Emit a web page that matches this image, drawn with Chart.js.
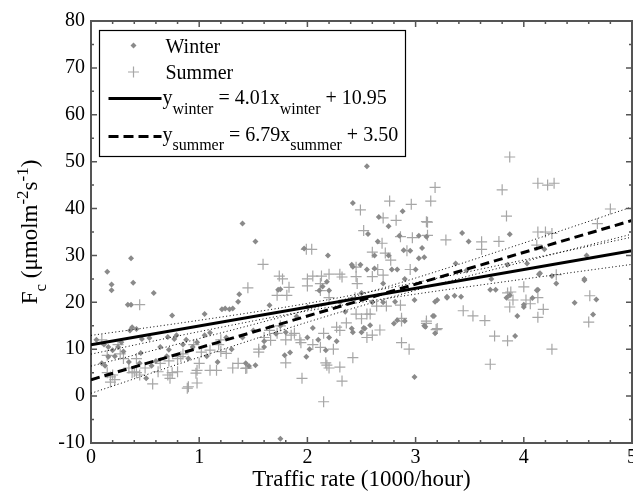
<!DOCTYPE html>
<html>
<head>
<meta charset="utf-8">
<script src="https://cdn.jsdelivr.net/npm/chart.js"></script>
<style>
html,body{margin:0;padding:0;background:#fff;}
canvas{display:block;}
</style>
</head>
<body>
<canvas id="c" width="633" height="494" style="width:633px;height:494px"></canvas>
<script>
// ---- data ----
const winterData = [
[0.15,26.5],[0.19,23.8],[0.19,22.6],[0.37,29.4],[0.34,19.5],[0.37,19.5],[0.39,24.2],[0.58,22],[0.38,14.7],[0.36,14.0],[0.42,14.3],[0.05,12],[0.12,11],[0.16,10.5],[0.2,9.8],[0.25,10.5],[0.28,11.5],[0.3,9.5],[0.22,8.5],[0.16,8.4],[0.1,7],[0.13,6.5],[0.35,7.3],[0.46,9.2],[0.47,12.2],[0.54,12.4],[0.51,3.8],[0.56,6.5],[0.6,7.5],[0.45,7],
[0.75,17.2],[0.71,12.6],[0.79,13],[0.77,12.2],[0.72,9.9],[0.7,8.5],[0.85,11],[0.88,12],[0.94,10.5],[0.98,11.5],[1.05,17.5],[1.07,8.5],[1.05,13],[1.1,13.5],[1.17,7.3],[1.21,18.5],[1.24,18.7],[1.28,18.5],[1.3,10],[1.25,12.5],[0.64,10.5],[0.9,8],
[1.31,18.7],[1.36,20.1],[1.37,21.7],[1.4,36.8],[1.52,33],[1.65,19.4],[1.73,22.7],[1.75,22.8],[1.97,31.5],[2.19,30],[2.11,22.5],[1.8,13.6],[1.46,6.4],[1.43,7],[1.52,6.6],[1.6,10.5],[1.6,11.7],[1.71,13.3],[1.75,15],[1.79,8.7],[1.84,9.3],[1.99,8.4],[2.02,10],[2.1,12],[2.05,14.5],[2.0,12.5],[2.2,12.5],[1.75,-9.1],[1.5,14],[1.4,12.5],[1.9,17],[2.0,19],
[2.55,49],[2.42,41.2],[2.88,39.4],[2.66,38.2],[2.75,36.2],[2.56,34.6],[2.85,34.2],[3.03,34.2],[3.1,34],[2.62,30],[2.89,31.1],[2.95,31],[3.03,29.4],[2.42,27.6],[2.55,27],[2.62,27.2],[2.78,27],[2.83,27],[3.0,27],[2.41,28],[2.49,28],[2.14,23.4],[2.18,24.4],[2.2,22.5],[2.17,9.8],[2.27,11.7],[2.42,13.6],[2.5,13.6],[2.58,15.1],[2.52,14.5],[2.41,14.4],[2.53,14.4],[2.8,15.5],[2.9,16],[3.09,14.8],[2.99,20.5],[2.6,20],[2.7,20],[2.81,20.1],[2.83,16.2],[2.99,4.1],[2.3,20],[2.7,24],[2.5,22],[2.9,25],[2.35,18],[2.65,33],[2.75,30],
[3.43,34.8],[3.49,33],[3.87,34.5],[3.06,31.6],[3.08,29.6],[3.37,28.3],[3.47,26.8],[3.85,28],[3.29,21.2],[3.42,21.2],[3.36,21.4],[3.69,22.7],[3.74,22.7],[3.84,21],[3.18,20.1],[3.29,21],[3.16,17.1],[3.08,15],[3.18,13.4],[3.92,12.8],[3.94,17.1],[3.87,21.5],[4.0,19],[3.17,17.1],[3.2,20.5],[3.7,25],
[4.03,28.3],[4.19,31.3],[4.58,30],[4.15,26.2],[4.26,25.6],[4.56,24.7],[4.13,22.7],[4.08,20.9],[4.0,19.5],[4.47,19.9],[4.67,20.6],[4.64,17.4],[4.12,22.6],[4.14,26],[4.3,24],[4.56,25]
];
const summerData = [
[0.45,19.5],[0.18,4.1],[0.2,4.5],[0.15,5],[0.22,3.5],[0.18,3],[0.4,5.2],[0.42,5],[0.45,4.5],[0.57,2.6],[0.3,8],[0.35,6],[0.38,5],[0.27,9],[0.15,8.7],[0.1,12],[0.5,6],[0.25,11],[0.42,8],
[0.62,5.2],[0.73,3.8],[0.71,4.5],[0.75,5],[0.8,5.2],[0.89,1.7],[0.98,2.8],[0.9,2],[0.97,4.9],[0.98,5.5],[1.0,7],[1.16,5.5],[1.1,5.5],[0.83,8.4],[0.64,7],[0.72,7.5],[0.8,8],[0.85,9],[1.02,9.4],[1.1,9.8],[1.2,9.5],[1.18,11],[1.2,12],[1.25,9.1],[0.95,11],
[1.36,7],[1.43,5.9],[1.31,6],[1.44,6],[1.55,9.4],[1.55,10],[1.6,12.5],[1.66,11.9],[1.65,14],[1.75,15],[1.8,12],[1.85,13],[1.8,7.1],[1.94,11.4],[1.93,12],[1.95,3.8],[2.05,11],[2.15,-1.2],[2.17,7.1],[1.59,28.1],[1.74,25.6],[1.45,23.1],[1.83,23.2],[1.72,21.5],[1.81,21.5],[1.77,25],[1.99,31.3],[2.04,31.3],[2.05,25.6],[2.13,25.6],[2.12,24],[2.0,23.5],[2.0,25],[1.72,13.4],[1.88,13.4],[2.12,22.5],[2.15,13.4],[2.12,10.4],[2.2,6],
[2.49,39.7],[2.76,41.6],[2.96,40.9],[2.7,38],[2.82,37.5],[2.52,35.3],[2.86,34],[2.97,33.8],[2.69,32.6],[2.6,30.7],[2.72,30.5],[2.92,31],[2.77,29],[2.45,27.5],[2.65,27],[2.95,27],[2.2,26],[2.3,26],[2.32,25.4],[2.45,25.5],[2.6,25.5],[2.7,25.8],[2.44,21],[2.46,24],[2.64,19.2],[2.73,19.2],[2.86,19.4],[2.87,16.6],[2.5,16.5],[2.58,17.5],[2.55,17.5],[2.45,17.5],[2.67,14.1],[2.55,12.5],[2.6,13],[2.3,14],[2.27,14.7],[2.36,15.6],[2.24,10],[2.18,6.6],[2.3,6.2],[2.32,3.2],[2.42,8.2],[2.87,11.4],[2.94,10],[2.87,16],[3.1,15.5],[3.1,37.2],[2.2,21],
[3.87,51],[3.18,44.5],[3.14,41.6],[3.8,44],[3.11,37.1],[3.11,34.3],[3.84,38.4],[3.28,33.3],[3.61,32.9],[3.61,31.3],[3.77,33],[3.85,22],[4.0,23.3],[3.1,16],[3.2,14.4],[3.44,18.2],[3.53,17.1],[3.64,16.1],[3.73,12.8],[3.85,11.8],[3.69,6.8],[3.87,19],[3.9,20.5],[3.88,22.2],[3.19,14.2],
[4.13,45.4],[4.22,45],[4.28,45.4],[4.8,39.9],[4.68,36.8],[4.13,35],[4.2,35],[4.26,34.7],[4.12,32.2],[4.3,25.9],[4.06,19.7],[4.13,21],[4.61,21.4],[4.18,18.5],[4.13,16.8],[4.6,15.8],[4.26,10],[4.02,20.5]
];
// fitted lines (end points) and confidence bands read at x = 0..5
const fitX = [0, 5];
const winterFitY = [10.95, 31.0];
const summerFitY = [3.5, 37.45];
const bandX = [0, 1, 2, 3, 4, 5];
const winterLo = [8.95, 13.75, 18.17, 21.75, 24.96, 28.1];
const winterHi = [12.95, 16.17, 19.77, 24.21, 29.02, 33.9];
const summerLo = [0.6, 8.3, 15.77, 22.56, 28.67, 34.55];
const summerHi = [6.4, 12.28, 18.39, 25.18, 32.65, 40.35];
// axes
const xRange = [0, 5], xMajor = 1, xMinor = 0.2;
const yRange = [-10, 80], yMajor = 10, yMinor = 5;
const legendLabels = ['Winter', 'Summer'];
const winterEq = [['y',0],['winter',1],[' = 4.01x',0],['winter',1],[' + 10.95',0]];
const summerEq = [['y',0],['summer',1],[' = 6.79x',0],['summer',1],[' + 3.50',0]];
const yTitle = [['F',0],['c',1],[' (\u03bcmolm',0],['-2',2],['s',0],['-1',2],[')',0]];
const xTitle = 'Traffic rate (1000/hour)';

const SERIF = '"Liberation Serif", "Times New Roman", serif';
const toXY = (xs, ys) => xs.map((v, i) => ({x: v, y: ys[i]}));
const pts = arr => arr.map(p => ({x: p[0], y: p[1]}));

function drawRich(ctx, segs, x, y, main, sub, shift, align) {
  const fontFor = k => (k === 0 ? main : sub) + 'px ' + SERIF;
  let total = 0;
  segs.forEach(s => { ctx.font = fontFor(s[1]); total += ctx.measureText(s[0]).width; });
  let cx = align === 'center' ? x - total / 2 : x;
  ctx.textBaseline = 'alphabetic';
  ctx.textAlign = 'left';
  segs.forEach(s => {
    ctx.font = fontFor(s[1]);
    const dy = s[1] === 1 ? shift : (s[1] === 2 ? -shift : 0);
    ctx.fillText(s[0], cx, y + dy);
    cx += ctx.measureText(s[0]).width;
  });
}

const framePlugin = {
  id: 'frame',
  afterDraw(chart) {
    const {ctx, chartArea: a, scales: {x, y}} = chart;
    ctx.save();
    // top/right frame
    ctx.strokeStyle = '#555';
    ctx.lineWidth = 2;
    ctx.beginPath();
    ctx.moveTo(a.left, a.top); ctx.lineTo(a.right, a.top); ctx.lineTo(a.right, a.bottom);
    ctx.stroke();
    // ticks (inside) on all four sides
    ctx.lineWidth = 1.5;
    ctx.beginPath();
    const nx = Math.round((xRange[1] - xRange[0]) / xMinor);
    for (let i = 0; i <= nx; i++) {
      const v = xRange[0] + i * xMinor;
      const px = x.getPixelForValue(v);
      const L = Math.abs(v / xMajor - Math.round(v / xMajor)) < 1e-6 ? 6 : 3;
      ctx.moveTo(px, a.bottom); ctx.lineTo(px, a.bottom - L);
      ctx.moveTo(px, a.top); ctx.lineTo(px, a.top + L);
    }
    const ny = Math.round((yRange[1] - yRange[0]) / yMinor);
    for (let i = 0; i <= ny; i++) {
      const v = yRange[0] + i * yMinor;
      const py = y.getPixelForValue(v);
      const L = Math.abs(v / yMajor - Math.round(v / yMajor)) < 1e-6 ? 6 : 3;
      ctx.moveTo(a.left, py); ctx.lineTo(a.left + L, py);
      ctx.moveTo(a.right, py); ctx.lineTo(a.right - L, py);
    }
    ctx.stroke();

    // legend box
    const bx = a.left + 8.5, by = a.top + 9.5, bw = 306, bh = 126;
    ctx.fillStyle = '#fff';
    ctx.fillRect(bx, by, bw, bh);
    ctx.strokeStyle = '#000';
    ctx.lineWidth = 1.2;
    ctx.strokeRect(bx, by, bw, bh);
    const mx = bx + 34, tx = bx + 66;
    // diamond
    ctx.fillStyle = '#8a8a8a';
    ctx.beginPath();
    const r = 3;
    ctx.moveTo(mx, by + 15 - r); ctx.lineTo(mx + r, by + 15); ctx.lineTo(mx, by + 15 + r); ctx.lineTo(mx - r, by + 15); ctx.closePath();
    ctx.fill();
    // plus
    ctx.strokeStyle = '#a6a6a6';
    ctx.lineWidth = 1.2;
    ctx.beginPath();
    ctx.moveTo(mx - 5.5, by + 41.5); ctx.lineTo(mx + 5.5, by + 41.5);
    ctx.moveTo(mx, by + 36); ctx.lineTo(mx, by + 47);
    ctx.stroke();
    ctx.fillStyle = '#000';
    ctx.font = '20px ' + SERIF;
    ctx.textAlign = 'left'; ctx.textBaseline = 'alphabetic';
    ctx.fillText(legendLabels[0], tx, by + 22.5);
    ctx.fillText(legendLabels[1], tx, by + 48.5);
    // line samples
    ctx.strokeStyle = '#000';
    ctx.lineWidth = 3;
    ctx.beginPath(); ctx.moveTo(bx + 9, by + 68); ctx.lineTo(bx + 62, by + 68); ctx.stroke();
    ctx.setLineDash([10, 5]);
    ctx.beginPath(); ctx.moveTo(bx + 9, by + 106); ctx.lineTo(bx + 62, by + 106); ctx.stroke();
    ctx.setLineDash([]);
    drawRich(ctx, winterEq, bx + 63, by + 73, 20, 16, 10, 'left');
    drawRich(ctx, summerEq, bx + 63, by + 110, 20, 16, 9, 'left');

    // y axis title (rotated)
    ctx.save();
    ctx.translate(37, (a.top + a.bottom) / 2);
    ctx.rotate(-Math.PI / 2);
    drawRich(ctx, yTitle, 0, 0, 23, 17, 9, 'center');
    ctx.restore();
    ctx.restore();
  }
};

function build() {
  const ctx = document.getElementById('c').getContext('2d');
  new Chart(ctx, {
    type: 'scatter',
    data: {
      datasets: [
        {type: 'line', data: toXY(fitX, winterFitY), borderColor: '#000', borderWidth: 3, pointRadius: 0, fill: false},
        {type: 'line', data: toXY(fitX, summerFitY), borderColor: '#000', borderWidth: 3, borderDash: [9, 5], pointRadius: 0, fill: false},
        {type: 'line', data: toXY(bandX, winterLo), borderColor: '#000', borderWidth: 1, borderDash: [1, 2.5], pointRadius: 0, fill: false, cubicInterpolationMode: 'monotone'},
        {type: 'line', data: toXY(bandX, winterHi), borderColor: '#000', borderWidth: 1, borderDash: [1, 2.5], pointRadius: 0, fill: false, cubicInterpolationMode: 'monotone'},
        {type: 'line', data: toXY(bandX, summerLo), borderColor: '#000', borderWidth: 1, borderDash: [1, 2.5], pointRadius: 0, fill: false, cubicInterpolationMode: 'monotone'},
        {type: 'line', data: toXY(bandX, summerHi), borderColor: '#000', borderWidth: 1, borderDash: [1, 2.5], pointRadius: 0, fill: false, cubicInterpolationMode: 'monotone'},
        {label: 'Winter', data: pts(winterData), pointStyle: 'rectRot', pointRadius: 3, backgroundColor: '#8a8a8a', borderColor: '#8a8a8a', borderWidth: 0},
        {label: 'Summer', data: pts(summerData), pointStyle: 'cross', pointRadius: 5.5, backgroundColor: '#a6a6a6', borderColor: '#a6a6a6', borderWidth: 1.2}
      ]
    },
    options: {
      responsive: false,
      animation: false,
      events: [],
      layout: {autoPadding: false, padding: {left: 0, right: 1, top: 21, bottom: 0}},
      plugins: {legend: {display: false}, tooltip: {enabled: false}},
      scales: {
        x: {
          type: 'linear', min: xRange[0], max: xRange[1],
          ticks: {stepSize: xMajor, color: '#000', font: {family: SERIF, size: 20}, padding: 3, maxRotation: 0, autoSkip: false},
          grid: {display: false, drawTicks: false},
          border: {display: true, color: '#555', width: 2},
          title: {display: true, text: xTitle, color: '#000', font: {family: SERIF, size: 23}, padding: {top: 0, bottom: 0}},
          afterFit(s) { s.height = 51; s.paddingLeft = 0; s.paddingRight = 0; }
        },
        y: {
          type: 'linear', min: yRange[0], max: yRange[1],
          ticks: {stepSize: yMajor, color: '#000', font: {family: SERIF, size: 20}, padding: 6},
          grid: {display: false, drawTicks: false},
          border: {display: true, color: '#555', width: 2},
          afterFit(s) { s.width = 91; }
        }
      }
    },
    plugins: [framePlugin]
  });
}
if (document.fonts && document.fonts.load) {
  Promise.all([document.fonts.load('20px "Liberation Serif"')]).then(build, build);
} else { build(); }
</script>
</body>
</html>
